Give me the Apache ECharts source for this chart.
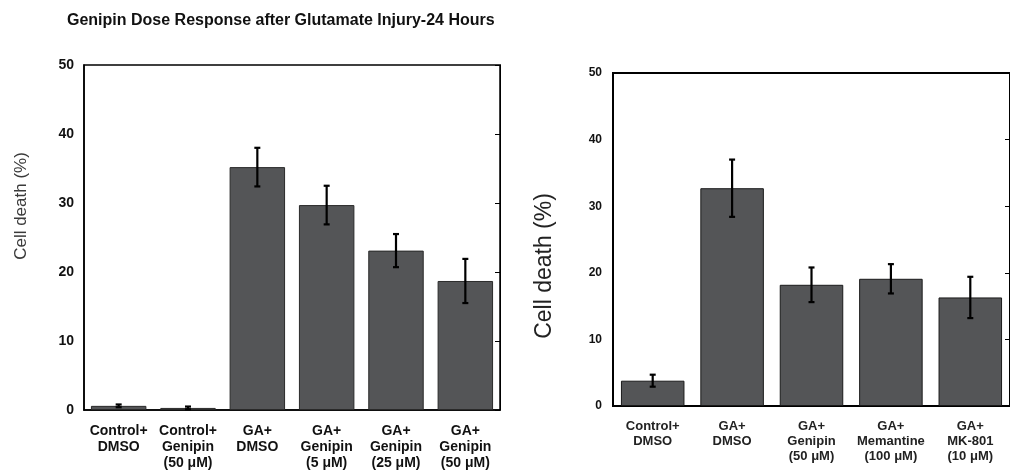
<!DOCTYPE html>
<html>
<head>
<meta charset="utf-8">
<script src="https://cdn.jsdelivr.net/npm/echarts@6/dist/echarts.min.js"></script>
<style>
html,body{margin:0;padding:0;background:#fff;}
#chart{width:1010px;height:472px;}
</style>
</head>
<body>
<div id="chart"></div>
<script>
// ---- Data ----
const titleText = 'Genipin Dose Response after Glutamate Injury-24 Hours';
const yAxisName = 'Cell death (%)';
const yTicks = [0, 10, 20, 30, 40, 50];

const leftCategories = ['Control+\nDMSO', 'Control+\nGenipin\n(50 μM)', 'GA+\nDMSO', 'GA+\nGenipin\n(5 μM)', 'GA+\nGenipin\n(25 μM)', 'GA+\nGenipin\n(50 μM)'];
const leftMeans = [0.6, 0.3, 35.2, 29.7, 23.1, 18.7];
const leftErrors = [0.2, 0.2, 2.8, 2.8, 2.4, 3.2];

const rightCategories = ['Control+\nDMSO', 'GA+\nDMSO', 'GA+\nGenipin\n(50 μM)', 'GA+\nMemantine\n(100 μM)', 'GA+\nMK-801\n(10 μM)'];
const rightMeans = [3.8, 32.7, 18.2, 19.1, 16.3];
const rightErrors = [0.9, 4.3, 2.6, 2.2, 3.1];

// ---- Chart ----
const chart = echarts.init(document.getElementById('chart'), null, {renderer: 'canvas'});
const FONT = 'Liberation Sans, Arial, sans-serif';
const BAR = '#545557';

function errRender(capHalf) {
  return function (params, api) {
    const x = api.value(0), v = api.value(1), e = api.value(2);
    const t = api.coord([x, v + e]);
    const b = api.coord([x, v - e]);
    const s = {stroke: '#000', lineWidth: 2.2};
    return {
      type: 'group',
      children: [
        {type: 'line', shape: {x1: t[0], y1: t[1], x2: b[0], y2: b[1]}, style: s},
        {type: 'line', shape: {x1: t[0] - capHalf, y1: t[1], x2: t[0] + capHalf, y2: t[1]}, style: s},
        {type: 'line', shape: {x1: b[0] - capHalf, y1: b[1], x2: b[0] + capHalf, y2: b[1]}, style: s}
      ]
    };
  };
}

const yMin = yTicks[0], yMax = yTicks[yTicks.length - 1], yInt = yTicks[1] - yTicks[0];

function yAxesFor(gridIndex, fontSize, margin, lw) {
  return [
    {
      type: 'value', gridIndex: gridIndex, position: 'left', min: yMin, max: yMax, interval: yInt,
      axisLine: {show: true, lineStyle: {color: '#000', width: lw}},
      axisTick: {show: false},
      splitLine: {show: false},
      axisLabel: {fontFamily: FONT, fontWeight: 'bold', fontSize: fontSize, color: '#111', margin: margin}
    },
    {
      type: 'value', gridIndex: gridIndex, position: 'right', min: yMin, max: yMax, interval: yInt,
      axisLine: {show: true, lineStyle: {color: '#000', width: 1}},
      axisTick: {show: true, inside: true, length: 5, lineStyle: {color: '#000', width: 1}},
      splitLine: {show: false},
      axisLabel: {show: false}
    }
  ];
}

const option = {
  backgroundColor: '#fff',
  animation: false,
  title: {
    text: titleText, left: 62, top: 8,
    textStyle: {fontFamily: FONT, fontWeight: 'bold', fontSize: 16, color: '#111'}
  },
  grid: [
    {left: 84, top: 65, width: 416, height: 345, show: true, borderColor: '#000', borderWidth: 1.5, backgroundColor: 'transparent'},
    {left: 613, top: 73, right: 0, height: 333, show: true, borderColor: '#000', borderWidth: 2, backgroundColor: 'transparent'}
  ],
  xAxis: [
    {
      type: 'category', gridIndex: 0, data: leftCategories,
      axisLine: {show: true, lineStyle: {color: '#000', width: 1.5}},
      axisTick: {show: false},
      axisLabel: {interval: 0, fontFamily: FONT, fontWeight: 'bold', fontSize: 14, lineHeight: 16, color: '#111', margin: 13}
    },
    {
      type: 'category', gridIndex: 1, data: rightCategories,
      axisLine: {show: true, lineStyle: {color: '#000', width: 1.5}},
      axisTick: {show: false},
      axisLabel: {interval: 0, fontFamily: FONT, fontWeight: 'bold', fontSize: 13, lineHeight: 15, color: '#222', margin: 13}
    }
  ],
  yAxis: [].concat(yAxesFor(0, 14, 10, 1.5), yAxesFor(1, 12, 11, 2)),
  graphic: [
    {type: 'text', x: 21, y: 206, rotation: Math.PI / 2,
      style: {text: yAxisName, fontFamily: FONT, fontSize: 17, fill: '#3a3a3a', align: 'center', verticalAlign: 'middle'}},
    {type: 'text', x: 545, y: 266, rotation: Math.PI / 2,
      style: {text: yAxisName, fontFamily: FONT, fontSize: 23, fill: '#222', align: 'center', verticalAlign: 'middle'}}
  ],
  series: [
    {
      type: 'bar', xAxisIndex: 0, yAxisIndex: 0, data: leftMeans, barCategoryGap: '20%',
      itemStyle: {color: BAR, borderColor: '#2a2a2a', borderWidth: 1}
    },
    {
      type: 'custom', xAxisIndex: 0, yAxisIndex: 0, z: 5,
      data: leftMeans.map((m, i) => [i, m, leftErrors[i]]),
      encode: {x: 0, y: 1},
      renderItem: errRender(3)
    },
    {
      type: 'bar', xAxisIndex: 1, yAxisIndex: 2, data: rightMeans, barCategoryGap: '20%',
      itemStyle: {color: BAR, borderColor: '#1a1a1a', borderWidth: 1}
    },
    {
      type: 'custom', xAxisIndex: 1, yAxisIndex: 2, z: 5,
      data: rightMeans.map((m, i) => [i, m, rightErrors[i]]),
      encode: {x: 0, y: 1},
      renderItem: errRender(3)
    }
  ]
};
chart.setOption(option);
</script>
</body>
</html>
